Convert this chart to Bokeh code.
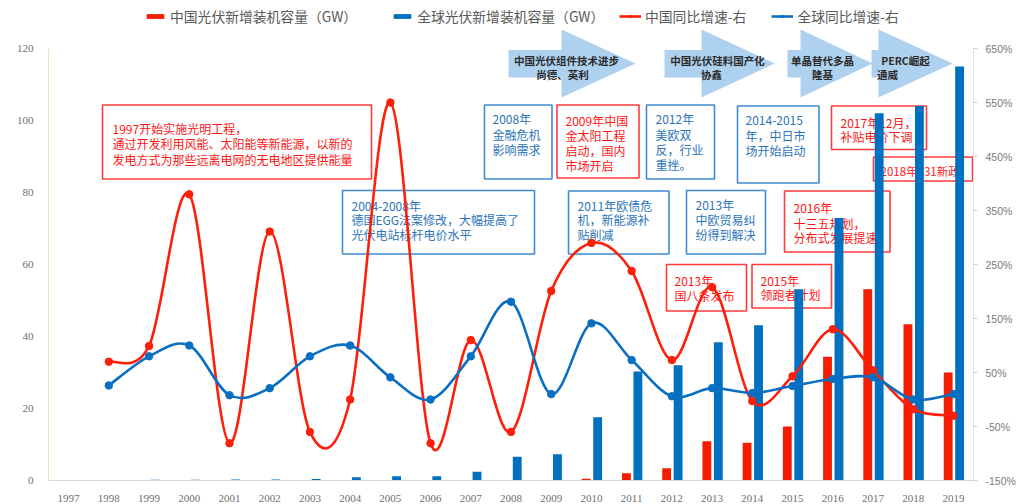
import numpy as np
from bokeh.plotting import figure
from bokeh.models import (Range1d, LinearAxis, FixedTicker, Legend, LegendItem,
                          BoxAnnotation, Label, PolyAnnotation, ColumnDataSource,
                          PrintfTickFormatter)
from bokeh.embed import file_html
from bokeh.resources import INLINE

# ---------------- data ----------------
years = [str(y) for y in range(1997, 2020)]
china_new_gw = [0.003, 0.005, 0.007, 0.12, 0.01, 0.12, 0.01, 0.01, 0.12, 0.01, 0.12, 0.04,
                0.16, 0.5, 2.0, 3.4, 10.9, 10.5, 15.0, 34.4, 53.1, 43.4, 30.0]
global_new_gw = [0.12, 0.15, 0.2, 0.2, 0.25, 0.3, 0.4, 0.9, 1.2, 1.2, 2.4, 6.6,
                 7.3, 17.6, 30.3, 32.0, 38.4, 43.1, 53.1, 72.9, 102.0, 104.0, 115.0]
growth_years = years[1:]
china_yoy = [70, 99, 380, -81, 311, -60, 0, 550, -81, 110, -60, 201, 290, 238,
             73, 208, -3, 43, 130, 54, -18, -30]
global_yoy = [26, 80, 100, 8, 21, 80, 100, 41, 0, 80, 181, 10, 141, 73,
              6, 21, 12, 25, 38, 41, 0, 10]
left_ticks = [0, 20, 40, 60, 80, 100, 120]
right_ticks = [-150, -50, 50, 150, 250, 350, 450, 550, 650]

RED_BAR = "#f61c00"
BLUE_BAR = "#0070c0"
RED_LINE = "#ff1e0a"
BLUE_LINE = "#0a6fc2"

# ---------------- layout ----------------
W, H = 1029, 504
FL, FR, FB = 48, 973, 480      # frame left/right/bottom in pixels (frame top = 0)
Y120 = 48                      # pixel row of the 120 / 650% gridline
NCAT = len(years)
PX_PER_GW = (FB - Y120) / 120.0
LEFT_TOP = FB / PX_PER_GW                      # left range top at canvas top
PCT_PER_PX = 800.0 / (FB - Y120)
RIGHT_TOP = -150 + FB * PCT_PER_PX


def dx(px):
    return -0.5 + (px - FL) / (FR - FL) * NCAT


def dy(py):
    return (FB - py) / PX_PER_GW


p = figure(width=W, height=H, output_backend="svg", toolbar_location=None,
           x_range=Range1d(-0.5, NCAT - 0.5), y_range=Range1d(0, LEFT_TOP),
           min_border_left=FL, min_border_right=W - FR, min_border_top=0,
           min_border_bottom=H - FB)
p.extra_y_ranges = {"pct": Range1d(-150, RIGHT_TOP)}
p.outline_line_color = None
p.xgrid.visible = False
p.ygrid.visible = False
p.background_fill_color = "white"
p.border_fill_color = "white"

# x axis
xa = p.xaxis[0]
xa.ticker = FixedTicker(ticks=list(range(NCAT)))
xa.major_label_overrides = {i: y for i, y in enumerate(years)}
xa.axis_line_color = "#d9d9d9"
xa.major_tick_line_color = None
xa.minor_tick_line_color = None
xa.major_label_text_font = "Liberation Serif"
xa.major_label_text_font_size = "11px"
xa.major_label_text_color = "#6f6f6f"
xa.major_label_standoff = 8

# left axis
ya = p.yaxis[0]
ya.ticker = FixedTicker(ticks=left_ticks)
ya.bounds = (0, 120)
ya.axis_line_color = "#dfe7b8"
ya.major_tick_line_color = None
ya.minor_tick_line_color = None
ya.major_label_text_font = "Liberation Serif"
ya.major_label_text_font_size = "11px"
ya.major_label_text_color = "#6f6f6f"
ya.major_label_standoff = 9

# right axis
ra = LinearAxis(y_range_name="pct", ticker=FixedTicker(ticks=right_ticks),
                formatter=PrintfTickFormatter(format="%d%%"), bounds=(-150, 650))
ra.axis_line_color = "#e3e3e3"
ra.major_tick_line_color = "#d0d0d0"
ra.major_tick_out = 4
ra.major_tick_in = 0
ra.minor_tick_line_color = None
ra.major_label_text_font = "Liberation Sans"
ra.major_label_text_font_size = "10.5px"
ra.major_label_text_color = "#7a7a7a"
ra.major_label_standoff = 8
p.add_layout(ra, "right")

# ---------------- annotations (underlay) ----------------
CJK = "Noto Sans CJK SC"
ARROW_FILL = "#aed1f0"
arrows = [
    # body_left, head_base, tip
    (508, 561, 635),
    (664, 701, 774),
    (787, 800, 872),
    (871, 878, 952),
]
for bl, hb, tip in arrows:
    pxs = [bl, hb, hb, tip, hb, hb, bl]
    pys = [49.5, 49.5, 29, 63, 97, 77, 77]
    p.add_layout(PolyAnnotation(xs=[dx(v) for v in pxs], ys=[dy(v) for v in pys],
                                fill_color=ARROW_FILL, fill_alpha=1.0,
                                line_color=None, level="underlay"))

arrow_texts = [
    ("中国光伏组件技术进步", 566, 60), ("尚德、英利", 562, 73.5),
    ("中国光伏硅料国产化", 717, 60), ("协鑫", 711, 73.5),
    ("单晶替代多晶", 822, 60), ("隆基", 822, 73.5),
    ("PERC崛起", 905, 60), ("通威", 887, 73.5),
]
for t, x, y in arrow_texts:
    p.add_layout(Label(x=dx(x), y=dy(y), text=t, text_font=CJK, text_font_size="10.5px",
                       text_font_style="bold", text_color="#2a2a2a", text_align="center",
                       text_baseline="middle", level="underlay"))

RED_T = "#ff1414"
BLUE_T = "#2c74b8"
RED_B = "#ff3b3b"
BLUE_B = "#3f8ad0"
boxes = [
    ("r", (102, 104.5, 371, 178.5), 112, 12,
     [("1997开始实施光明工程，", 128), ("通过开发利用风能、太阳能等新能源，以新的", 143),
      ("发电方式为那些远离电网的无电地区提供能量", 158.5)]),
    ("b", (342, 190, 534, 253.5), 351, 12,
     [("2004-2008年", 204.5), ("德国EGG法案修改，大幅提高了", 219), ("光伏电站标杆电价水平", 234)]),
    ("b", (484, 104.5, 551.5, 178.5), 492, 12,
     [("2008年", 118), ("金融危机", 133.5), ("影响需求", 148.5)]),
    ("r", (556.5, 104.5, 638.5, 177.5), 565, 12,
     [("2009年中国", 119.5), ("金太阳工程", 134.5), ("启动，国内", 150), ("市场开启", 165)]),
    ("b", (646, 104.5, 714, 178.5), 655, 12,
     [("2012年", 117.5), ("美欧双", 133.5), ("反，行业", 149), ("重挫。", 164)]),
    ("b", (737, 105.5, 818.5, 182.5), 745, 12,
     [("2014-2015", 119.5), ("年，中日市", 134.5), ("场开始启动", 149.5)]),
    ("r", (831, 105.5, 926, 149), 840, 12,
     [("2017年12月，", 122), ("补贴电价下调", 136)]),
    ("r", (873, 156.5, 972, 180.5), 880, 11.5,
     [("2018年531新政", 170)]),
    ("b", (568, 190.5, 668.5, 253.5), 577, 12,
     [("2011年欧债危", 204.5), ("机，新能源补", 219), ("贴削减", 234)]),
    ("b", (686, 190, 765, 253.5), 695, 12,
     [("2013年", 204), ("中欧贸易纠", 218.5), ("纷得到解决", 233.5)]),
    ("r", (784, 190.5, 889.5, 251.5), 793, 12,
     [("2016年", 207), ("十三五规划，", 222.5), ("分布式发展提速", 237)]),
    ("r", (666, 264, 746, 310.5), 674, 12,
     [("2013年", 280), ("国八条发布", 295)]),
    ("r", (751.5, 264, 831, 307.5), 760, 12,
     [("2015年", 279.5), ("领跑者计划", 293.5)]),
]
for kind, (x0, y0, x1, y1), tx, fs, lines in boxes:
    lc = RED_B if kind == "r" else BLUE_B
    tc = RED_T if kind == "r" else BLUE_T
    p.add_layout(BoxAnnotation(left=dx(x0), right=dx(x1), top=dy(y0), bottom=dy(y1),
                               fill_alpha=0.0, line_color=lc, line_width=1.6,
                               line_alpha=1.0, level="underlay"))
    for t, y in lines:
        p.add_layout(Label(x=dx(tx), y=dy(y), text=t, text_font=CJK, text_font_size=f"{fs}px",
                           text_color=tc, text_align="left", text_baseline="middle",
                           level="underlay"))

# ---------------- bars ----------------
idx = np.arange(NCAT)
r_cbar = p.vbar(x=idx - 0.13, top=china_new_gw, width=0.22, fill_color=RED_BAR, line_color=None)
r_gbar = p.vbar(x=idx + 0.155, top=global_new_gw, width=0.22, fill_color=BLUE_BAR, line_color=None)


# ---------------- smooth lines (Bezier through data points) ----------------
def bezier_source(xs, ys):
    xs = list(xs)
    ys = list(ys)
    n = len(xs)
    d = {k: [] for k in ("x0", "y0", "x1", "y1", "cx0", "cy0", "cx1", "cy1")}
    for i in range(n - 1):
        im = max(i - 1, 0)
        ip = min(i + 2, n - 1)
        d["x0"].append(xs[i]); d["y0"].append(ys[i])
        d["x1"].append(xs[i + 1]); d["y1"].append(ys[i + 1])
        d["cx0"].append(xs[i] + (xs[i + 1] - xs[im]) / 6.0)
        d["cy0"].append(ys[i] + (ys[i + 1] - ys[im]) / 6.0)
        d["cx1"].append(xs[i + 1] - (xs[ip] - xs[i]) / 6.0)
        d["cy1"].append(ys[i + 1] - (ys[ip] - ys[i]) / 6.0)
    return ColumnDataSource(d)


gidx = [years.index(y) for y in growth_years]
r_cline = p.bezier(x0="x0", y0="y0", x1="x1", y1="y1", cx0="cx0", cy0="cy0", cx1="cx1", cy1="cy1",
                   source=bezier_source(gidx, china_yoy), line_color=RED_LINE, line_width=2.6,
                   y_range_name="pct")
r_cdot = p.scatter(gidx, china_yoy, size=7.5, fill_color=RED_LINE, line_color=RED_LINE,
                   y_range_name="pct")
r_gline = p.bezier(x0="x0", y0="y0", x1="x1", y1="y1", cx0="cx0", cy0="cy0", cx1="cx1", cy1="cy1",
                   source=bezier_source(gidx, global_yoy), line_color=BLUE_LINE, line_width=2.6,
                   y_range_name="pct")
r_gdot = p.scatter(gidx, global_yoy, size=7.5, fill_color=BLUE_LINE, line_color=BLUE_LINE,
                   y_range_name="pct")

# ---------------- legends (top of the frame) ----------------
leg_style = dict(orientation="horizontal", glyph_width=22, glyph_height=6, label_height=6,
                 label_standoff=4, label_text_font=CJK, label_text_font_size="13.8px",
                 label_text_color="#595959", border_line_color=None,
                 background_fill_alpha=0.0, padding=0, margin=0)
legend_bars = Legend(items=[
    LegendItem(label="中国光伏新增装机容量（GW）", renderers=[r_cbar]),
    LegendItem(label="全球光伏新增装机容量（GW）", renderers=[r_gbar]),
], location=(144 - FL, FB - 26), spacing=34, **leg_style)
legend_lines = Legend(items=[
    LegendItem(label="中国同比增速-右", renderers=[r_cline, r_cdot]),
    LegendItem(label="全球同比增速-右", renderers=[r_gline, r_gdot]),
], location=(619 - FL, FB - 26), spacing=25, **leg_style)
p.add_layout(legend_bars, "center")
p.add_layout(legend_lines, "center")

open("out.html", "w").write(file_html(p, INLINE))
